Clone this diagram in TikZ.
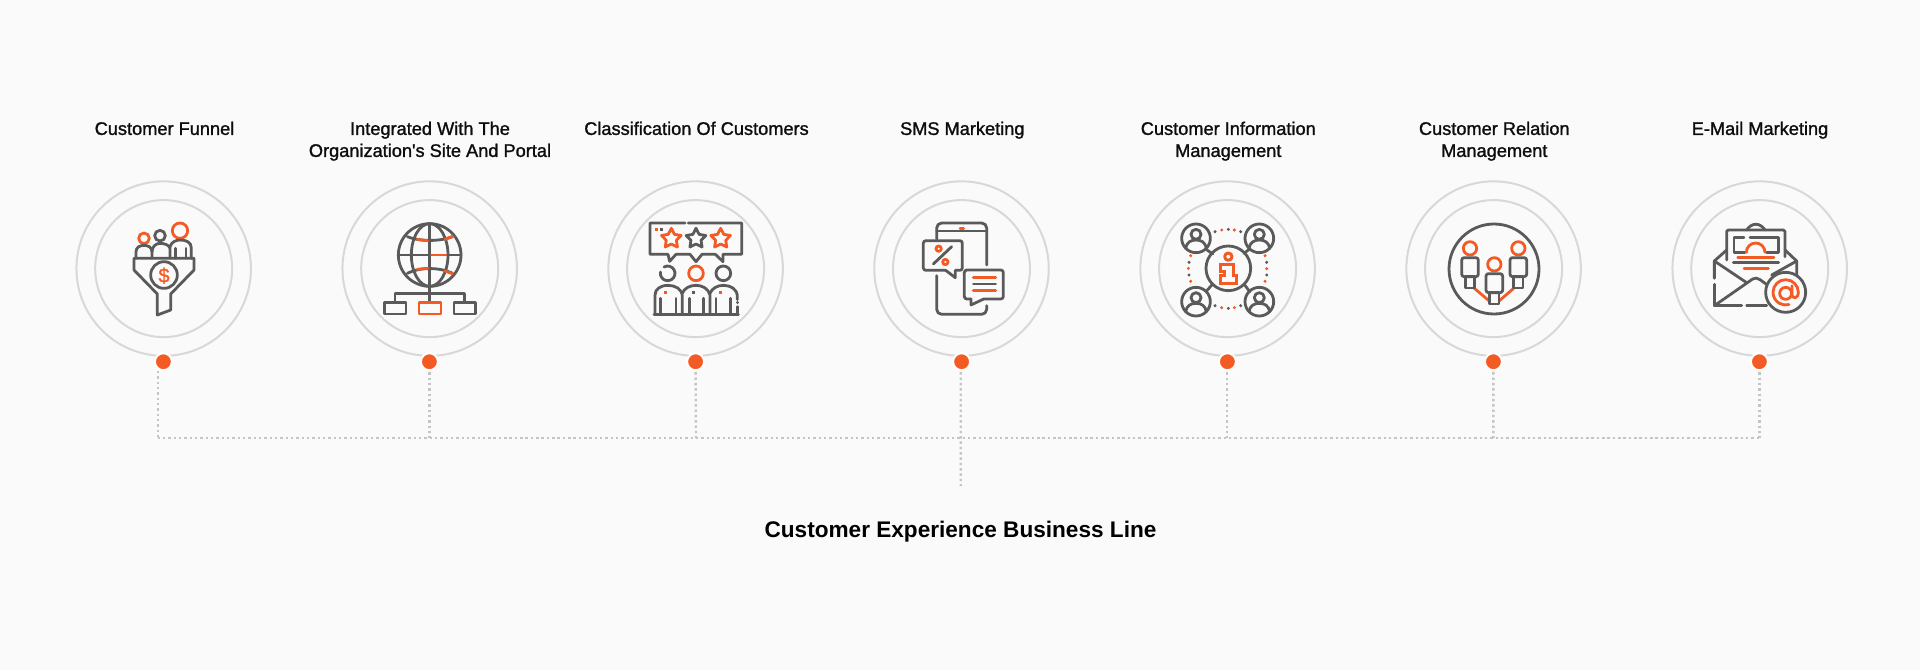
\documentclass[tikz,border=0pt]{standalone}
\usepackage{fontspec}
\setmainfont{Liberation Sans}
\newfontfamily\medfont[FakeBold=1.3]{Liberation Sans}
\newfontfamily\boldfont{Liberation Sans Bold}
\definecolor{bgc}{HTML}{FAFAFA}
\definecolor{ringc}{HTML}{D8D8D8}
\definecolor{dotc}{HTML}{C4C4C4}
\definecolor{grayc}{HTML}{5A5A5A}
\definecolor{orangec}{HTML}{F45B24}
\newcommand{\starshape}[2]{plot[samples at={0,36,...,324}] ({#1+(mod(\x,72)==0?31:16)*sin(\x)},{#2-(mod(\x,72)==0?31:16)*cos(\x)}) -- cycle}
\tikzset{
  x=1pt,y=-1pt,
  zm/.style={x=.33333pt,y=-.33333pt},
  gy/.style={draw=grayc,line width=2.8pt,line join=round,line cap=round},
  og/.style={draw=orangec,line width=2.8pt,line join=round,line cap=round},
  ringbig/.style={circle,draw=ringc,line width=2pt,minimum size=174.5pt,inner sep=0pt,outer sep=0pt},
  ringsmall/.style={circle,draw=ringc,line width=2pt,minimum size=137pt,inner sep=0pt,outer sep=0pt},
  pin/.style={circle,fill=orangec,draw=white,line width=2pt,minimum size=17pt,inner sep=0pt,outer sep=0pt},
  dotline/.style={draw=dotc,line width=2.4pt,dash pattern=on 2.4pt off 2.93pt},
  lab/.style={font=\medfont\fontsize{18.2}{22}\selectfont,align=center,anchor=north,inner sep=0pt,text=black!95},
  ttl/.style={font=\boldfont\fontsize{22.6}{28}\selectfont,anchor=base,inner sep=0pt,text=black},
}
\begin{document}
\begin{tikzpicture}
\useasboundingbox (0,0) rectangle (1920,670);
\fill[bgc] (0,0) rectangle (1920,670);
% rings and pins
\foreach \i/\cx in {1/163.7,2/429.7,3/695.6,4/961.5,5/1227.6,6/1493.6,7/1759.7}{
  \node[ringbig] (o\i) at (\cx,268.6) {};
  \node[ringsmall] (n\i) at (\cx,268.6) {};
}
\foreach \i/\cx in {1/163.4,2/429.4,3/695.6,4/961.6,5/1227.4,6/1493.4,7/1759.4}{
  \node[pin] (d\i) at (\cx,361.7) {};
}
% labels
\node[lab] (l1) at (164.5,121.5) {Customer Funnel};
\node[lab] (l2) at (430,121.5) {Integrated With The\\Organization's Site And Portal};
\node[lab] (l3) at (696.5,121.5) {Classification Of Customers};
\node[lab] (l4) at (962.3,121.5) {SMS Marketing};
\node[lab] (l5) at (1228.3,121.5) {Customer Information\\Management};
\node[lab] (l6) at (1494.3,121.5) {Customer Relation\\Management};
\node[lab] (l7) at (1760,121.5) {E-Mail Marketing};
\node[ttl] (title) at (960.5,537) {Customer Experience Business Line};
% connectors
\coordinate (t1) at (157.7,371);
\coordinate (b1) at (157.7,438);
\coordinate (b2) at (429.4,438);
\coordinate (b3) at (696,438);
\coordinate (b4) at (960.7,438);
\coordinate (b5) at (1227,438);
\coordinate (b6) at (1493.3,438);
\coordinate (b7) at (1759.4,438);
\coordinate (e4) at (960.7,486);
\draw[dotline] (b1) -- (b7);
\draw[dotline] (t1) -- (b1);
\draw[dotline] (d2.south) ++(0,2) -- (b2);
\draw[dotline] (d3.south) ++(0,2) -- (b3);
\draw[dotline] (d4.south) ++(-.9,2) -- (e4);
\draw[dotline] (d5.south) ++(-.4,2) -- (b5);
\draw[dotline] (d6.south) ++(0,2) -- (b6);
\draw[dotline] (d7.south) ++(0,2) -- (b7);
% icon 1 funnel
\begin{scope}[shift={(120,220)},zm]
  \draw[gy] (42,115) -- (222,115) -- (222,150) -- (152,222) -- (152,270) -- (112,285) -- (112,222) -- (42,150) -- cycle;
  \draw[gy] (132,165) circle (40);
  \node[font=\medfont\fontsize{20}{20}\selectfont,text=orangec,inner sep=0pt] (dollar) at (132,167) {\$};
  \draw[og] (72,55) circle (16);
  \draw[gy] (120,47) circle (16);
  \draw[og] (180,32) circle (23);
  \draw[gy] (48,115) -- (48,95) .. controls (48,82) and (60,76) .. (72,76) .. controls (84,76) and (96,82) .. (96,95) -- (96,115);
  \draw[gy] (96,95) .. controls (96,80) and (108,70) .. (120,70) .. controls (132,70) and (146,74) .. (150,84);
  \draw[gy] (150,115) -- (150,80) .. controls (154,66) and (168,60) .. (180,60) .. controls (198,60) and (214,66) .. (214,84) -- (214,115);
  \draw[gy] (166,85) -- (166,115) (198,85) -- (198,115);
\end{scope}
% icon 2 globe
\begin{scope}[shift={(380,215)},zm]
  \draw[gy] (149,120) circle (94);
  \draw[gy] (149,120) ellipse (55 and 94);
  \draw[gy] (149,26) -- (149,262);
  \draw[gy] (55,120) -- (243,120);
  \draw[gy] (82,65) .. controls (118,80) and (180,80) .. (218,65);
  \draw[gy] (82,175) .. controls (118,156) and (180,156) .. (218,175);
  \draw[og] (112,73) -- (143,77);
  \draw[og] (195,73) -- (218,64);
  \draw[og] (155,120) -- (198,120);
  \draw[og] (112,163) -- (143,160);
  \draw[og] (195,168) -- (217,176);
  \draw[gy] (45,262) -- (45,236) -- (253,236) -- (253,262);
  \draw[gy] (14,262) rectangle (78,297);
  \draw[og] (117,262) rectangle (183,297);
  \draw[gy] (222,262) rectangle (287,297);
\end{scope}
% icon 3 ratings
\begin{scope}[shift={(640,215)},zm]
  \draw[gy] (135,24) -- (30,24) -- (30,118) -- (84,118) -- (89,139) -- (108,118) -- (150,118) -- (168,140) -- (186,118) -- (226,118) -- (249,140) -- (249,118) -- (305,118) -- (305,24) -- (145,24);
  \fill[orangec] (45,39) rectangle (53,47);
  \fill[grayc] (61,39) rectangle (69,47);
  \draw[og] \starshape{94}{71};
  \draw[gy] \starshape{168}{71};
  \draw[og] \starshape{242}{71};
  \draw[gy] (72,156) arc[start angle=-120,end angle=190,radius=22];
  \draw[og] (168,175) circle (22);
  \draw[gy] (250,175) circle (22);
  \draw[gy] (42,298) -- (295,298);
  \draw[gy] (45,298) -- (45,240) .. controls (45,222) and (62,211) .. (84,211) .. controls (106,211) and (127,222) .. (127,245) -- (127,298);
  \draw[gy] (127,235) .. controls (132,220) and (150,211) .. (168,211) .. controls (186,211) and (205,220) .. (210,240) -- (210,298);
  \draw[gy] (210,235) .. controls (216,220) and (232,211) .. (250,211) .. controls (272,211) and (292,222) .. (292,245) -- (292,254);
  \draw[gy] (292,262) -- (292,263) (292,275) -- (292,298);
  \draw[gy] (62,250) -- (62,298) (108,250) -- (108,298) (148,250) -- (148,298) (190,250) -- (190,298) (228,250) -- (228,298) (272,250) -- (272,298);
  \fill[orangec] (73,228) rectangle (81,236);
  \fill[grayc] (156,228) rectangle (164,236);
  \fill[orangec] (238,228) rectangle (246,236);
\end{scope}
% icon 4 phone
\begin{scope}[shift={(905,215)},zm]
  \draw[gy,rounded corners=5pt] (95,72) -- (95,24) -- (245,24) -- (245,150);
  \draw[gy,rounded corners=5pt] (95,182) -- (95,298) -- (245,298) -- (245,272);
  \draw[gy] (95,48) -- (245,48);
  \draw[og,line width=3pt] (165,39) -- (176,39);
  \draw[gy,rounded corners=2.5pt] (122,166) -- (55,166) -- (55,77) -- (172,77) -- (172,166) -- (151,166);
  \draw[gy] (122,166) -- (151,188) -- (151,166);
  \draw[gy,rounded corners=2.5pt] (236,252) -- (295,252) -- (295,165) -- (178,165) -- (178,252) -- (198,252);
  \draw[gy] (198,252) -- (198,270) -- (236,252);
  \draw[gy] (85,147) -- (140,95);
  \draw[og] (101,101) circle (8);
  \draw[og] (121,141) circle (8);
  \draw[og] (205,187) -- (272,187);
  \draw[gy] (205,207) -- (272,207);
  \draw[og] (205,227) -- (272,227);
\end{scope}
% icon 5 info
\begin{scope}[shift={(1170,215)},zm]
  \draw[gy] (175,160) circle (67);
  \foreach \px/\py in {78/70,268/70,78/260,268/260}{
    \draw[gy] (\px,\py) circle (43);
    \draw[gy] (\px,\py-12) circle (15);
    \draw[gy] (\px-31,\py+30) .. controls (\px-28,\py+12) and (\px-16,\py+5) .. (\px,\py+5) .. controls (\px+16,\py+5) and (\px+28,\py+12) .. (\px+31,\py+30);
  }
  \draw[gy] (107,102) -- (128,117) (239,102) -- (222,115) (108,230) -- (128,207) (239,230) -- (222,207);
  \foreach \px/\py in {135/50,175/43,212/50,135/272,175/280,212/272,57/142,57/180,290/142,290/180}{
    \fill[grayc] (\px,\py) circle (5);
  }
  \foreach \px/\py in {155/45,193/45,155/278,193/278,62/122,55/160,62/199,285/122,290/161,285/199}{
    \fill[orangec] (\px,\py) circle (5);
  }
  \draw[og,line width=3pt] (175,125) circle (11);
  \draw[og,line width=3pt,line join=miter] (150,149) -- (190,149) -- (190,182) -- (200,182) -- (200,205) -- (150,205) -- (150,182) -- (163,182) -- (163,170) -- (150,170) -- cycle;
\end{scope}
% icon 6 relation
\begin{scope}[shift={(1435,215)},zm]
  \draw[gy] (177,162) circle (135);
  \draw[og] (118,220) -- (163,258) (236,220) -- (192,258);
  \foreach \px/\py in {105/100,178/148,250/100}{
    \draw[og] (\px,\py) circle (20);
    \draw[gy,rounded corners=2.5pt] (\px-25,\py+28) rectangle (\px+25,\py+85);
    \draw[gy] (\px-14,\py+85) rectangle (\px+14,\py+119);
  }
\end{scope}
% icon 7 mail
\begin{scope}[shift={(1700,215)},zm]
  \draw[gy] (140,45) .. controls (155,22) and (180,22) .. (195,45);
  \draw[gy,rounded corners=1.5pt] (80,135) -- (80,45) -- (255,45) -- (255,125);
  \draw[gy] (132,68) -- (102,68) -- (102,112) -- (135,112);
  \draw[gy] (150,68) -- (235,68) -- (235,112) -- (200,112);
  \draw[og] (139,112) arc[start angle=180,end angle=360,radius=28];
  \draw[og] (113,128) -- (222,128);
  \draw[gy] (100,143) -- (236,143);
  \draw[og] (132,160) -- (205,160);
  \draw[gy] (80,105) -- (43,138) -- (43,190);
  \draw[gy] (255,105) -- (290,138) -- (290,195);
  \draw[gy] (43,208) -- (43,272) -- (125,272);
  \draw[gy] (140,272) -- (200,272);
  \draw[gy] (43,138) -- (140,203);
  \draw[gy] (290,138) -- (215,180);
  \draw[gy] (43,272) -- (158,192) .. controls (165,188) and (172,188) .. (180,194) -- (205,212);
  \draw[gy,fill=bgc] (257,232) circle (60);
  \draw[og] (295,232) arc[start angle=0,end angle=-285,radius=38];
  \draw[og] (257,235) circle (18);
  \draw[og] (276,212) -- (276,240) .. controls (277,252) and (295,252) .. (295,232);
\end{scope}
\end{tikzpicture}
\end{document}
